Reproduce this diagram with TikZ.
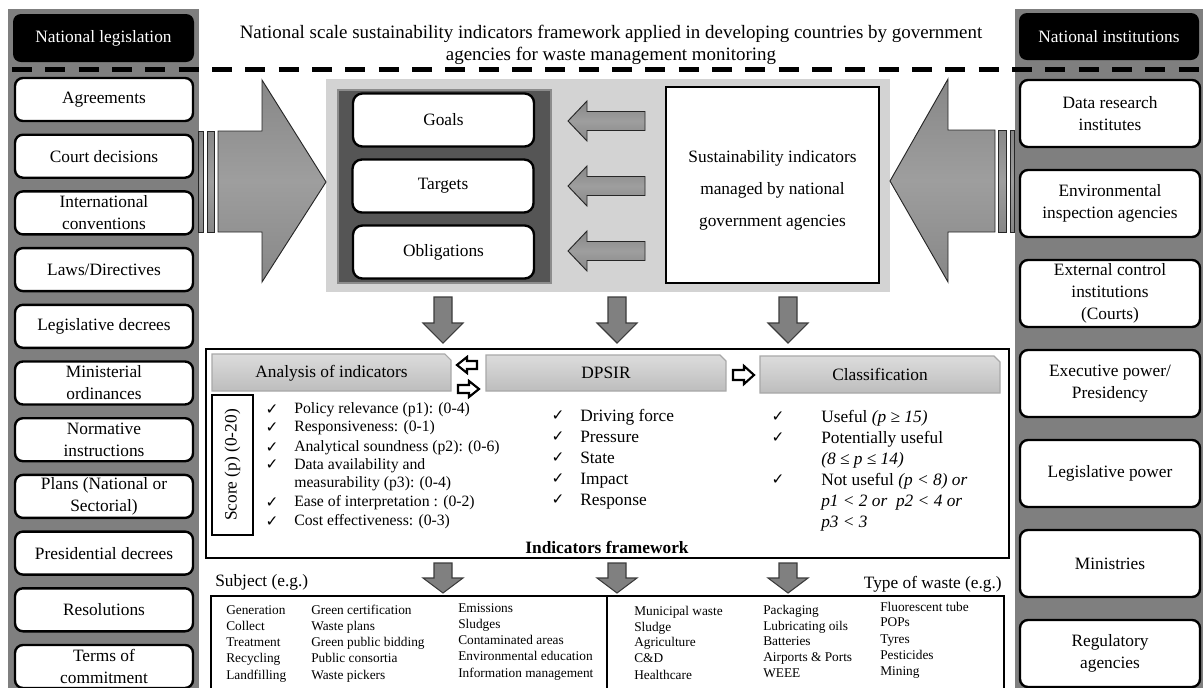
\documentclass[tikz,border=0pt]{standalone}
\usepackage{fontspec}
\setmainfont{Liberation Serif}
\newfontfamily\symfont{DejaVu Sans}
\newcommand\fs[2]{\fontsize{#1pt}{#2pt}\selectfont}
\newcommand\pxu{*0.75pt}
\newcommand\ckm{{\symfont\fontsize{11.5pt}{12pt}\selectfont ✓}}
\definecolor{panelgray}{HTML}{7F7F7F}
\definecolor{lightpanel}{HTML}{D3D3D3}
\definecolor{darkpanel}{HTML}{555555}
\definecolor{darkedge}{HTML}{8C8C8C}
\definecolor{arrA}{HTML}{878787}
\definecolor{arrB}{HTML}{9E9E9E}
\definecolor{tabtop}{HTML}{DCDCDC}
\definecolor{tabbot}{HTML}{BDBDBD}
\definecolor{tabedge}{HTML}{A8A8A8}
\definecolor{dnfill}{HTML}{808080}
\definecolor{dnedge}{HTML}{3C3C3C}
\tikzset{
 lbox/.style={draw, line width=1.8pt, fill=white, rounded corners=6pt, align=center, inner sep=0pt, font=\fs{13}{16.5}},
 hdr/.style={fill=black, text=white, rounded corners=6pt, inner sep=0pt, font=\fs{13}{16.5}},
 bigarrow/.style={top color=arrA, bottom color=arrA, middle color=arrB, draw=black!85, line width=0.7pt},
 dnarrow/.style={fill=dnfill, draw=dnedge, line width=0.8pt},
 tabshape/.style={top color=tabtop, bottom color=tabbot, draw=tabedge, line width=0.8pt},
 hollow/.style={fill=white, draw=black, line width=1.6pt, line join=miter},
 plain/.style={inner sep=0pt, font=\fs{13}{16.5}},
 item/.style={inner sep=0pt, anchor=west, text height=9pt, text depth=3pt, font=\fs{13}{16.5}},
 aitem/.style={inner sep=0pt, anchor=west, text height=8.5pt, text depth=2.8pt, font=\fs{11.8}{14}},
 small/.style={inner sep=0pt, anchor=west, text height=7pt, text depth=2.3pt, font=\fs{10}{12}},
 chk/.style={inner sep=0pt},
}
\begin{document}
\begin{tikzpicture}[x=0.75pt,y=-0.75pt]
\useasboundingbox (0,0) rectangle (1203,687);
\clip (0,0) rectangle (1203,687);
% side panels
\fill[panelgray] (8,9) rectangle (199,700);
\fill[panelgray] (1015,9) rectangle (1210,700);
\node (nl) [hdr, minimum width=181\pxu, minimum height=48\pxu] at (103.5,38) {National legislation};
\node (ni) [hdr, minimum width=180\pxu, minimum height=47\pxu] at (1109,36.5) {National institutions};
\node (title) [plain, align=center, font=\fs{14.2}{16.5}] at (611,45) {National scale sustainability indicators framework applied in developing countries by government\\agencies for waste management monitoring};
\draw[line width=3.75pt, dash pattern=on 15pt off 10pt] (12,69) -- (1210,69);
% left boxes
\foreach \t [count=\i from 0] in {Agreements,Court decisions,International\\conventions,Laws/Directives,Legislative decrees,Ministerial\\ordinances,Normative\\instructions,Plans (National or\\Sectorial),Presidential decrees,Resolutions,Terms of\\commitment}
  \node (L\i) [lbox, minimum width=178\pxu, minimum height=43\pxu] at (104,99.5+56.7*\i) {\t};
% right boxes
\foreach \t [count=\i from 0] in {Data research\\institutes,Environmental\\inspection agencies,External control\\institutions\\(Courts),Executive power/\\Presidency,Legislative power,Ministries,Regulatory\\agencies}
  \node (R\i) [lbox, minimum width=180\pxu, minimum height=67\pxu] at (1110,113.5+90*\i) {\t};
% central panel
\fill[lightpanel] (326,79) rectangle (890,292);
\filldraw[fill=darkpanel, draw=darkedge, line width=1.2pt] (338,90) rectangle (551,283);
\node (goals) [lbox, rounded corners=7pt, minimum width=181\pxu, minimum height=53\pxu] at (443.5,120) {Goals};
\node (targets) [lbox, rounded corners=7pt, minimum width=181\pxu, minimum height=53\pxu] at (443,186) {Targets};
\node (oblig) [lbox, rounded corners=7pt, minimum width=181\pxu, minimum height=53\pxu] at (443.5,252) {Obligations};
\foreach \c in {121,186,251}
  \path[bigarrow] (568,\c) -- (587,\c-20) -- (587,\c-9.5) -- (645,\c-9.5) -- (645,\c+9.5) -- (587,\c+9.5) -- (587,\c+20) -- cycle;
\node (sia) [draw, line width=1.8pt, fill=white, minimum width=213\pxu, minimum height=196\pxu] at (772.5,185) {};
\node (siat) [plain, align=center, font=\fs{13}{24}] at (772.5,190) {Sustainability indicators\\managed by national\\government agencies};
% big arrows
\path[bigarrow] (198,131) rectangle (203,232);
\path[bigarrow] (207,131) rectangle (214,232);
\path[bigarrow] (218,131) -- (262,131) -- (262,80) -- (326,182) -- (262,282) -- (262,232) -- (218,232) -- cycle;
\path[bigarrow] (995,130) -- (948,130) -- (948,79) -- (890,181) -- (948,282) -- (948,232) -- (995,232) -- cycle;
\path[bigarrow] (998,130) rectangle (1006,232);
\path[bigarrow] (1010,130) rectangle (1014,232);
% down arrows
\foreach \cx in {443,617,788}{
  \path[dnarrow] (\cx-9,297) -- (\cx+9,297) -- (\cx+9,323) -- (\cx+20,323) -- (\cx,343) -- (\cx-20,323) -- (\cx-9,323) -- cycle;
  \path[dnarrow] (\cx-9,563) -- (\cx+9,563) -- (\cx+9,578) -- (\cx+20,578) -- (\cx,593) -- (\cx-20,578) -- (\cx-9,578) -- cycle;
}
% framework box
\node (fw) [draw, line width=1.7pt, minimum width=803\pxu, minimum height=209\pxu] at (607.5,453.5) {};
\path[tabshape] (212,354) -- (445,354) -- (451,360) -- (451,391) -- (212,391) -- cycle;
\node (tA) [plain] at (331.5,373) {Analysis of indicators};
\path[tabshape] (486,355) -- (720,355) -- (726,361) -- (726,391) -- (486,391) -- cycle;
\node (tD) [plain] at (606,373) {DPSIR};
\path[tabshape] (760,356) -- (994,356) -- (1000,362) -- (1000,393) -- (760,393) -- cycle;
\node (tC) [plain] at (880,374.5) {Classification};
% hollow arrows
\path[hollow] (457,365) -- (467,357) -- (467,361) -- (477,361) -- (477,369) -- (467,369) -- (467,373) -- cycle;
\path[hollow] (479,389) -- (469,381) -- (469,385) -- (458,385) -- (458,393) -- (469,393) -- (469,397) -- cycle;
\path[hollow] (754,375) -- (744,366) -- (744,370) -- (733,370) -- (733,380) -- (744,380) -- (744,384) -- cycle;
% score
\node (score) [draw, line width=1.5pt, rotate=90, inner sep=0pt, minimum width=140\pxu, minimum height=41\pxu, font=\fs{13}{16}] at (232.5,465) {Score (p) (0-20)};
% analysis list
\foreach \y/\t [count=\i] in {410/Policy relevance (p1): (0-4),428/Responsiveness: (0-1),448/Analytical soundness (p2): (0-6),466/Data availability and,484/measurability (p3): (0-4),503/Ease of interpretation : (0-2),522/Cost effectiveness: (0-3)}
  \node (an\i) [aitem] at (294,\y) {\t};
\foreach \y [count=\i] in {410,428,448,465,503,522}
  \node (anc\i) [chk] at (272,\y) {\ckm};
% DPSIR list
\foreach \y/\t [count=\i] in {417/Driving force,438/Pressure,459/State,480/Impact,501/Response}{
  \node (dp\i) [item] at (580,\y) {\t};
  \node (dpc\i) [chk] at (558,\y-1) {\ckm};
}
% classification list
\node (c1) [item] at (821,418) {Useful \textit{(p ≥ 15)}};
\node (c2) [item] at (821,439) {Potentially useful};
\node (c3) [item] at (821,460) {\textit{(8 ≤ p ≤ 14)}};
\node (c4) [item] at (821,481) {Not useful \textit{(p < 8) or}};
\node (c5) [item] at (821,502) {\textit{p1 < 2 or\ \ p2 < 4 or}};
\node (c6) [item] at (821,523) {\textit{p3 < 3}};
\foreach \y [count=\i] in {417,438,480}
  \node (cc\i) [chk] at (778,\y) {\ckm};
\node (fwl) [plain, font=\bfseries\fs{13}{16}] at (607,547) {Indicators framework};
% bottom
\node (subjl) [plain, anchor=west] at (215,582) {Subject (e.g.)};
\node (typel) [plain, anchor=east] at (1002,584) {Type of waste (e.g.)};
\node (subj) [draw, line width=1.5pt, minimum width=396\pxu, minimum height=110\pxu] at (409,651) {};
\node (typ) [draw, line width=1.5pt, minimum width=397\pxu, minimum height=110\pxu] at (805.5,651) {};
\foreach \y/\t [count=\i] in {611/Generation,627/Collect,643/Treatment,659/Recycling,676/Landfilling}
  \node (sa\i) [small] at (226,\y) {\t};
\foreach \y/\t [count=\i] in {611/Green certification,627/Waste plans,643/Green public bidding,659/Public consortia,676/Waste pickers}
  \node (sb\i) [small] at (311,\y) {\t};
\foreach \y/\t [count=\i] in {609/Emissions,625/Sludges,641/Contaminated areas,657/Environmental education,674/Information management}
  \node (sc\i) [small] at (458,\y) {\t};
\foreach \y/\t [count=\i] in {612/Municipal waste,628/Sludge,643/Agriculture,659/C\&D,676/Healthcare}
  \node (wa\i) [small] at (634,\y) {\t};
\foreach \y/\t [count=\i] in {611/Packaging,627/Lubricating oils,642/Batteries,658/Airports \& Ports,674/WEEE}
  \node (wb\i) [small] at (763,\y) {\t};
\foreach \y/\t [count=\i] in {608/Fluorescent tube,623/POPs,640/Tyres,656/Pesticides,672/Mining}
  \node (wc\i) [small] at (880,\y) {\t};
\end{tikzpicture}
\end{document}
